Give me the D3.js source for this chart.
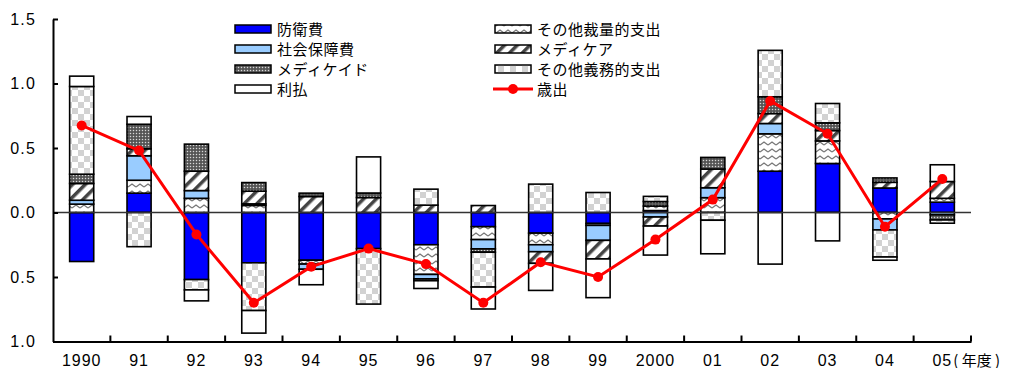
<!DOCTYPE html>
<html>
<head>
<meta charset="utf-8">
<script src="https://cdn.jsdelivr.net/npm/d3@7"></script>
<style>
  body { margin: 0; background: #fff; }
  svg text { font-family: "Liberation Sans", Arial, sans-serif; }
  .jp { font-family: "Noto Sans CJK JP", sans-serif; }
</style>
</head>
<body>
<div id="chart"></div>
<script>
const years = ['1990', '91', '92', '93', '94', '95', '96', '97', '98', '99', '2000', '01', '02', '03', '04', '05'];

// 各項目の寄与（ポイント）
const defense     = [-0.38, 0.15, -0.52, -0.39, -0.37, -0.28, -0.25, -0.11, -0.16, -0.085, 0.015, 0, 0.32, 0.38, 0.19, 0.08];
const otherDisc   = [0.065, 0.10, 0.11, 0.055, -0.03, 0, -0.23, -0.10, -0.09, -0.015, 0.035, 0.115, 0.29, 0.175, -0.05, 0.03];
const socialSec   = [0.03, 0.19, 0.06, 0.012, -0.04, 0, -0.034, -0.072, -0.054, -0.116, -0.035, 0.077, 0.08, 0, -0.085, -0.018];
const medicare    = [0.13, 0.054, 0.15, 0.098, 0.124, 0.116, 0.057, 0.054, -0.09, -0.144, -0.07, 0.145, 0.077, 0.08, 0.044, 0.13];
const medicaid    = [0.072, 0.19, 0.21, 0.067, 0.026, 0.035, -0.015, -0.026, 0, 0, 0.035, 0.09, 0.13, 0.06, 0.034, -0.04];
const otherMand   = [0.68, -0.265, -0.08, -0.37, 0, -0.43, 0.124, -0.27, 0.22, 0.155, 0.04, -0.06, 0.36, 0.15, -0.21, -0.025];
const interest    = [0.08, 0.06, -0.085, -0.175, -0.12, 0.28, -0.06, -0.17, -0.21, -0.30, -0.225, -0.26, -0.40, -0.22, -0.025, 0.13];
const outlays     = [0.675, 0.48, -0.17, -0.70, -0.42, -0.28, -0.40, -0.70, -0.385, -0.50, -0.21, 0.10, 0.865, 0.61, -0.11, 0.26];

const yTicks = [-1.0, -0.5, 0, 0.5, 1.0, 1.5];

const series = [
  { key: 'defense',   name: '防衛費',           values: defense,   fill: '#0000ff' },
  { key: 'otherDisc', name: 'その他裁量的支出', values: otherDisc, fill: 'url(#wave)' },
  { key: 'socialSec', name: '社会保障費',       values: socialSec, fill: '#99ccff' },
  { key: 'medicare',  name: 'メディケア',       values: medicare,  fill: 'url(#diag)' },
  { key: 'medicaid',  name: 'メディケイド',     values: medicaid,  fill: 'url(#dots)' },
  { key: 'otherMand', name: 'その他義務的支出', values: otherMand, fill: 'url(#check)' },
  { key: 'interest',  name: '利払',             values: interest,  fill: '#ffffff' }
];

const W = 1024, H = 368;
const plot = { left: 53, right: 971, top: 19, bottom: 341.5 };

const svg = d3.select('#chart').append('svg')
  .attr('width', W)
  .attr('height', H);

// patterns
const defs = svg.append('defs');

const wave = defs.append('pattern').attr('id', 'wave')
  .attr('patternUnits', 'userSpaceOnUse').attr('width', 8).attr('height', 7);
wave.append('rect').attr('width', 8).attr('height', 7).attr('fill', '#fff');
wave.append('path').attr('d', 'M0,5 L4,2 L8,5')
  .attr('fill', 'none').attr('stroke', '#777').attr('stroke-width', 1.3);

const diag = defs.append('pattern').attr('id', 'diag')
  .attr('patternUnits', 'userSpaceOnUse').attr('width', 9).attr('height', 9)
  .attr('patternTransform', 'rotate(45)');
diag.append('rect').attr('width', 9).attr('height', 9).attr('fill', '#fff');
diag.append('rect').attr('width', 3.5).attr('height', 9).attr('fill', '#444');

const dots = defs.append('pattern').attr('id', 'dots')
  .attr('patternUnits', 'userSpaceOnUse').attr('width', 3).attr('height', 3);
dots.append('rect').attr('width', 3).attr('height', 3).attr('fill', '#555');
dots.append('circle').attr('cx', 1.5).attr('cy', 1.5).attr('r', 0.75).attr('fill', '#d8d8d8');

const check = defs.append('pattern').attr('id', 'check')
  .attr('patternUnits', 'userSpaceOnUse').attr('width', 12).attr('height', 12);
check.append('rect').attr('width', 12).attr('height', 12).attr('fill', '#fff');
check.append('rect').attr('width', 6).attr('height', 6).attr('fill', '#d2d2d2');
check.append('rect').attr('x', 6).attr('y', 6).attr('width', 6).attr('height', 6).attr('fill', '#d2d2d2');

// scales
const x = d3.scaleBand()
  .domain(years)
  .range([plot.left, plot.right])
  .paddingInner(0.58)
  .paddingOuter(0.29);

const y = d3.scaleLinear()
  .domain([-1, 1.5])
  .range([plot.bottom, plot.top]);

const step = x.step();
const bw = x.bandwidth();

// stacked data
const table = years.map((yr, i) => {
  const row = { year: yr };
  series.forEach(s => { row[s.key] = s.values[i]; });
  return row;
});

const stacked = d3.stack()
  .keys(series.map(s => s.key))
  .offset(d3.stackOffsetDiverging)(table);

const layers = svg.selectAll('.layer')
  .data(stacked)
  .enter()
  .append('g')
  .attr('class', 'layer')
  .attr('fill', (d, i) => series[i].fill);

layers.selectAll('rect')
  .data(d => d.filter(v => Math.abs(v[1] - v[0]) > 1e-9))
  .enter()
  .append('rect')
  .attr('x', d => x(d.data.year))
  .attr('width', bw)
  .attr('y', d => y(Math.max(d[0], d[1])))
  .attr('height', d => Math.abs(y(d[0]) - y(d[1])))
  .attr('stroke', '#000')
  .attr('stroke-width', 1.6);

// zero line
svg.append('line')
  .attr('x1', plot.left).attr('x2', plot.right)
  .attr('y1', y(0)).attr('y2', y(0))
  .attr('stroke', '#333')
  .attr('stroke-width', 1.5);

// y axis
const yAxis = svg.append('g')
  .attr('transform', `translate(${plot.left},0)`)
  .call(d3.axisLeft(y)
    .tickValues(yTicks)
    .tickSizeInner(-5)
    .tickSizeOuter(0)
    .tickPadding(17)
    .tickFormat(d => Math.abs(d).toFixed(1)));
yAxis.select('.domain').attr('stroke', '#000').attr('stroke-width', 2);
yAxis.selectAll('.tick line').attr('stroke', '#000').attr('stroke-width', 2);
yAxis.selectAll('text')
  .attr('font-size', 16)
  .attr('letter-spacing', 1.2)
  .attr('fill', '#000');

// x axis (labels at centres, ticks at band edges)
const xAxis = svg.append('g')
  .attr('transform', `translate(0,${plot.bottom})`)
  .call(d3.axisBottom(x).tickSize(0).tickPadding(13));
xAxis.select('.domain').attr('stroke', '#000').attr('stroke-width', 2);
xAxis.selectAll('text')
  .attr('font-size', 16)
  .attr('letter-spacing', 1)
  .attr('fill', '#000');

svg.append('g')
  .selectAll('line')
  .data(years)
  .enter()
  .append('line')
  .attr('x1', d => x(d) + bw / 2 + step / 2)
  .attr('x2', d => x(d) + bw / 2 + step / 2)
  .attr('y1', plot.bottom)
  .attr('y2', plot.bottom - 6)
  .attr('stroke', '#000')
  .attr('stroke-width', 2);

svg.append('text')
  .attr('class', 'jp')
  .attr('x', x('05') + bw / 2 + 11)
  .attr('y', plot.bottom + 24)
  .attr('font-size', 15)
  .attr('fill', '#000')
  .attr('xml:space', 'preserve')
  .style('white-space', 'pre')
  .text('( 年度 )');

// outlays line
const line = d3.line()
  .x((d, i) => x(years[i]) + bw / 2)
  .y(d => y(d));

svg.append('path')
  .datum(outlays)
  .attr('fill', 'none')
  .attr('stroke', '#ff0000')
  .attr('stroke-width', 3)
  .attr('d', line);

svg.append('g')
  .selectAll('circle')
  .data(outlays)
  .enter()
  .append('circle')
  .attr('cx', (d, i) => x(years[i]) + bw / 2)
  .attr('cy', d => y(d))
  .attr('r', 5)
  .attr('fill', '#ff0000');

// legend
const legendLeft = ['defense', 'socialSec', 'medicaid', 'interest'];
const legendRight = ['otherDisc', 'medicare', 'otherMand'];
const rowY = [29, 49, 69, 89];

const legend = svg.append('g');

function addSwatch(key, lx, ly) {
  const s = series.find(v => v.key === key);
  legend.append('rect')
    .attr('x', lx).attr('y', ly - 4)
    .attr('width', 36).attr('height', 8)
    .attr('fill', s.fill)
    .attr('stroke', '#000')
    .attr('stroke-width', 1.5);
  legend.append('text')
    .attr('class', 'jp')
    .attr('x', lx + 42).attr('y', ly + 5.5)
    .attr('font-size', 15)
    .attr('letter-spacing', 0.5)
    .attr('fill', '#000')
    .text(s.name);
}

legendLeft.forEach((k, i) => addSwatch(k, 235, rowY[i]));
legendRight.forEach((k, i) => addSwatch(k, 495, rowY[i]));

legend.append('line')
  .attr('x1', 493).attr('x2', 533)
  .attr('y1', rowY[3]).attr('y2', rowY[3])
  .attr('stroke', '#ff0000').attr('stroke-width', 3);
legend.append('circle')
  .attr('cx', 513).attr('cy', rowY[3]).attr('r', 5)
  .attr('fill', '#ff0000');
legend.append('text')
  .attr('class', 'jp')
  .attr('x', 537).attr('y', rowY[3] + 5.5)
  .attr('font-size', 15)
  .attr('letter-spacing', 0.5)
  .attr('fill', '#000')
  .text('歳出');
</script>
</body>
</html>
